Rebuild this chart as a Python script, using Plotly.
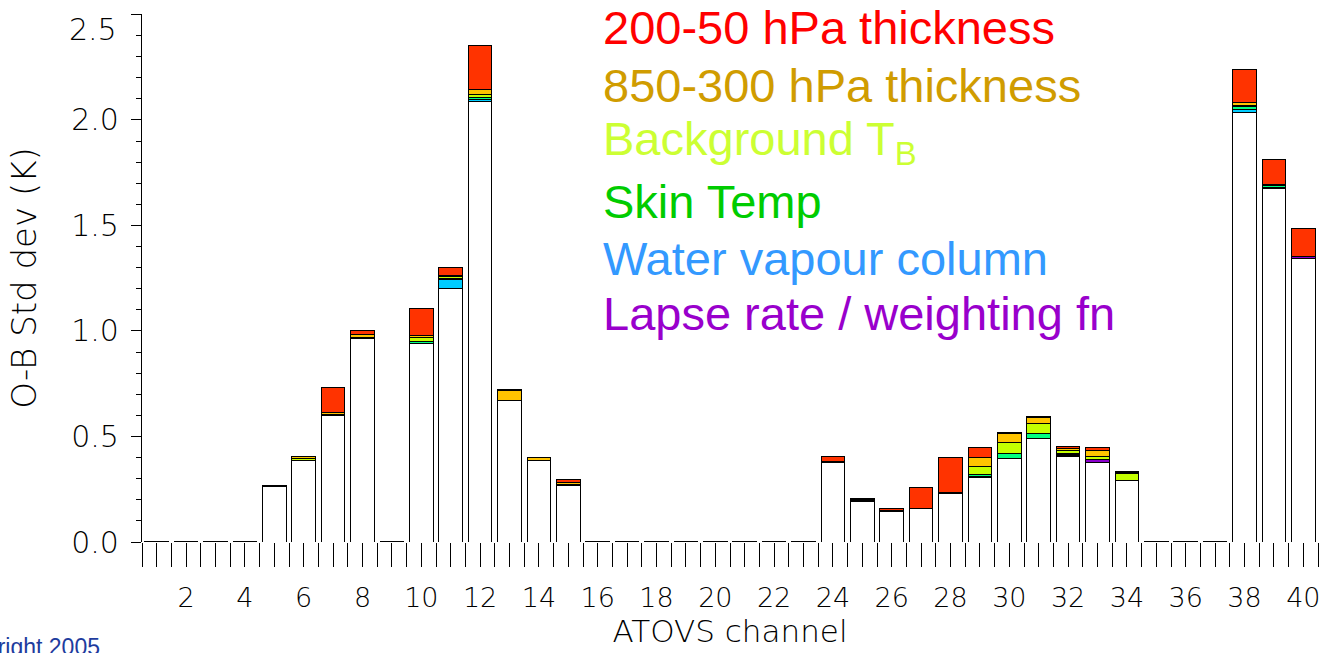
import plotly.graph_objects as go

# ---------------- data ----------------
channels = list(range(1, 41))

# white base part of each bar (O-B std dev not explained by the listed terms)
base = [0.002, 0.002, 0.002, 0.002, 0.265, 0.384, 0.598, 0.965, 0.002, 0.940,
        1.200, 2.089, 0.670, 0.385, 0.270, 0.002, 0.002, 0.002, 0.002, 0.002,
        0.002, 0.002, 0.002, 0.377, 0.192, 0.143, 0.159, 0.231, 0.307, 0.398,
        0.489, 0.406, 0.376, 0.290, 0.002, 0.002, 0.002, 2.036, 1.675, 1.343]
lapse = [0, 0, 0, 0, 0, 0, 0, 0.002, 0, 0,
         0, 0, 0, 0, 0.002, 0, 0, 0, 0, 0,
         0, 0, 0, 0, 0, 0, 0, 0, 0, 0,
         0, 0.006, 0.014, 0.003, 0, 0, 0, 0, 0, 0.008]
water = [0, 0, 0, 0, 0, 0, 0, 0, 0, 0,
         0.046, 0.010, 0, 0, 0, 0, 0, 0, 0, 0,
         0, 0, 0, 0, 0, 0, 0, 0, 0.002, 0,
         0, 0.004, 0, 0, 0, 0, 0, 0.012, 0.004, 0]
skin = [0, 0, 0, 0, 0, 0.004, 0.004, 0.002, 0, 0.011,
        0.002, 0.006, 0.002, 0.002, 0, 0, 0, 0, 0, 0,
        0, 0, 0, 0, 0.004, 0, 0, 0, 0.013, 0.020,
        0.024, 0.004, 0.003, 0, 0, 0, 0, 0.017, 0.008, 0]
bgtb = [0, 0, 0, 0, 0, 0.008, 0.002, 0.002, 0, 0.018,
        0.010, 0.016, 0, 0, 0, 0, 0, 0, 0, 0,
        0, 0, 0, 0, 0, 0, 0, 0.003, 0.038, 0.053,
        0.047, 0.012, 0.013, 0.032, 0, 0, 0, 0.004, 0.002, 0]
th850 = [0, 0, 0, 0, 0.003, 0.007, 0.010, 0.011, 0, 0.008,
         0.004, 0.025, 0.048, 0.012, 0.012, 0, 0, 0, 0, 0,
         0, 0, 0, 0.004, 0.004, 0.007, 0.001, 0, 0.041, 0.042,
         0.029, 0.012, 0.028, 0.003, 0, 0, 0, 0.012, 0.006, 0.003]
th200 = [0, 0, 0, 0, 0.002, 0.002, 0.116, 0.018, 0, 0.128,
         0.041, 0.208, 0.003, 0.002, 0.011, 0, 0, 0, 0, 0,
         0, 0, 0, 0.024, 0.005, 0.007, 0.100, 0.166, 0.045, 0.005,
         0.006, 0.007, 0.012, 0.005, 0, 0, 0, 0.156, 0.118, 0.133]

legend_labels = ["200-50 hPa thickness", "850-300 hPa thickness",
                 "Background T<sub>B</sub>", "Skin Temp",
                 "Water vapour column", "Lapse rate / weighting fn"]
legend_colors = ["#FF0000", "#D09C00", "#CCFF33", "#00CC00", "#3399FF", "#9900CC"]

x_tick_vals = list(range(2, 41, 2))
y_tick_vals = [0.0, 0.5, 1.0, 1.5, 2.0, 2.5]
y_tick_text = ["0.0", "0.5", "1.0", "1.5", "2.0", ""]   # top label drawn separately below
y_top_label = "2.5"

# ---------------- figure ----------------
segments = [
    ("Other", base, "#FFFFFF"),
    ("Lapse rate / weighting fn", lapse, "#8A00CC"),
    ("Water vapour column", water, "#00CCFF"),
    ("Skin Temp", skin, "#00FF80"),
    ("Background TB", bgtb, "#C4FF00"),
    ("850-300 hPa thickness", th850, "#FFC400"),
    ("200-50 hPa thickness", th200, "#FF3300"),
]

fig = go.Figure()
for name, vals, col in segments:
    fig.add_trace(go.Bar(
        x=channels, y=vals, name=name, showlegend=False,
        marker=dict(color=col, line=dict(color="#000000", width=1.0)),
    ))

tick_font = dict(family="DejaVu Sans", size=30, color="#000000", weight=200)

fig.update_layout(
    width=1325, height=653,
    barmode="stack", bargap=0.2,
    plot_bgcolor="#FFFFFF", paper_bgcolor="#FFFFFF",
    margin=dict(l=142, r=7, t=14, b=111, autoexpand=False),
    xaxis=dict(
        range=[0.5, 40.5], tickmode="array", tickvals=x_tick_vals,
        ticks="outside", ticklen=24, tickwidth=1, tickcolor="#000000",
        showline=False, showgrid=False, zeroline=False,
        tickfont=dict(family="DejaVu Sans", size=27, color="#000000", weight=200),
        ticklabelstandoff=8,
        minor=dict(tick0=0.5, dtick=0.5, ticks="outside", ticklen=24,
                   tickwidth=1, tickcolor="#000000", showgrid=False),
        title=dict(text="ATOVS channel", standoff=1,
                   font=dict(family="DejaVu Sans", size=31, color="#000000", weight=200)),
    ),
    yaxis=dict(
        range=[0, 2.502], tickmode="array", tickvals=y_tick_vals, ticktext=y_tick_text,
        ticks="outside", ticklen=10, tickwidth=1.2, tickcolor="#000000",
        showline=True, linecolor="#000000", linewidth=1.2,
        showgrid=False, zeroline=False,
        tickfont=tick_font, ticklabelstandoff=6,
        minor=dict(dtick=0.1, ticks="outside", ticklen=5, tickwidth=1.2,
                   tickcolor="#000000", showgrid=False),
        title=dict(text="O-B Std dev (K)", standoff=24,
                   font=dict(family="DejaVu Sans", size=34, color="#000000", weight=200)),
    ),
)

# pixel layout converted to paper coords
px0, pw, py0, ph = 142.0, 1176.0, 542.0, 528.0

# top y tick label (sits a little below its tick in the reference)
fig.add_annotation(
    text=y_top_label, xref="paper", yref="paper",
    x=(119 - px0) / pw, y=(py0 - 30) / ph,
    xanchor="right", yanchor="middle", showarrow=False, font=tick_font,
)

# legend as coloured text lines
baselines = [44, 101.5, 158, 217.5, 274.5, 330]
for lab, col, bl in zip(legend_labels, legend_colors, baselines):
    fig.add_annotation(
        text=lab, xref="paper", yref="paper",
        x=(601 - px0) / pw, y=(py0 - (bl - 16)) / ph,
        xanchor="left", yanchor="middle", showarrow=False,
        font=dict(family="Liberation Sans", size=47, color=col),
    )

fig.add_annotation(
    text="Copyright 2005", xref="paper", yref="paper",
    x=(102 - px0) / pw, y=(py0 - 647) / ph,
    xanchor="right", yanchor="middle", showarrow=False,
    font=dict(family="Liberation Sans", size=23, color="#1E3C9E"),
)

fig.write_html("out.html", config={"displayModeBar": False},
               post_script="document.body.style.margin='0';document.body.style.padding='0';")
